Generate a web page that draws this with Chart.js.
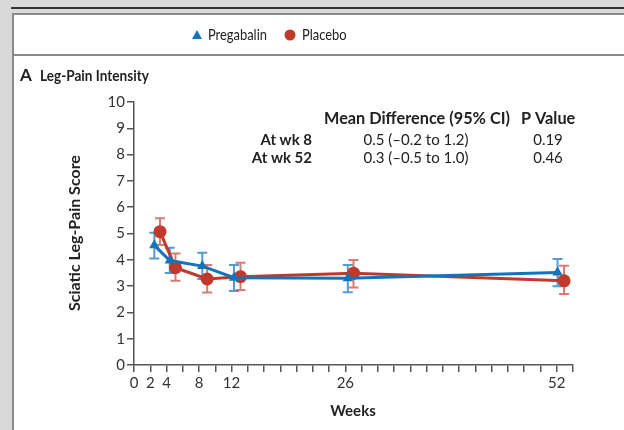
<!DOCTYPE html>
<html>
<head>
<meta charset="utf-8">
<script src="https://cdn.jsdelivr.net/npm/chart.js@4.4.1/dist/chart.umd.min.js"></script>
<style>
  html, body { margin: 0; padding: 0; background: #d9d9d9; }
  #wrap { width: 624px; height: 430px; }
</style>
</head>
<body>
<div id="wrap"><canvas id="myChart" width="624" height="430"></canvas></div>
<script>
// values (weeks are slightly dodged per group)
const weeksPregabalin = [2.5, 4.4, 8.4, 12.3, 26.3, 52.1];
const scorePregabalin = [4.55, 3.97, 3.76, 3.32, 3.3, 3.52];
const lowPregabalin = [4.05, 3.5, 3.27, 2.81, 2.77, 2.99];
const highPregabalin = [5.03, 4.46, 4.27, 3.8, 3.8, 4.03];

const weeksPlacebo = [3.2, 5.1, 9.0, 13.1, 27.0, 52.9];
const scorePlacebo = [5.07, 3.7, 3.27, 3.36, 3.49, 3.2];
const lowPlacebo = [4.56, 3.2, 2.76, 2.85, 2.95, 2.7];
const highPlacebo = [5.58, 4.24, 3.8, 3.89, 3.99, 3.77];

const xTickLabels = [0, 2, 4, 8, 12, 26, 52];

const tableHeader = ["Mean Difference (95% CI)", "P Value"];
const tableRows = ["At wk 8", "At wk 52"];
const tableDiff = ["0.5 (\u20130.2 to 1.2)", "0.3 (\u20130.5 to 1.0)"];
const tablePValue = ["0.19", "0.46"];

const BLUE = "#1474bb";
const RED = "#c0392b";
const FONT = "Lato, 'Open Sans', sans-serif";

function toPoints(xs, ys) {
  return xs.map((x, i) => ({ x: x, y: ys[i] }));
}

// text squeezed horizontally, the figure uses a narrow face
function narrowText(ctx, text, x, y, font, sx) {
  ctx.save();
  ctx.font = font;
  ctx.translate(x, y);
  ctx.scale(sx, 1);
  ctx.fillText(text, 0, 0);
  ctx.restore();
}

// page frame, legend, title, table text
const decor = {
  id: "decor",
  beforeDraw(chart) {
    const ctx = chart.ctx;
    ctx.save();
    ctx.fillStyle = "#d9d9d9";
    ctx.fillRect(0, 0, 624, 430);
    ctx.fillStyle = "#ffffff";
    ctx.fillRect(12, 14, 612, 416);
    ctx.strokeStyle = "#333";
    ctx.lineWidth = 2;
    ctx.beginPath();
    ctx.moveTo(11, 8);
    ctx.lineTo(624, 8);
    ctx.stroke();
    ctx.strokeStyle = "#8a8a8a";
    ctx.beginPath();
    ctx.moveTo(13, 430);
    ctx.lineTo(13, 14);
    ctx.lineTo(624, 14);
    ctx.moveTo(13, 55);
    ctx.lineTo(624, 55);
    ctx.stroke();
    ctx.restore();
  },
  afterDraw(chart) {
    const ctx = chart.ctx;
    ctx.save();
    ctx.textBaseline = "middle";

    // legend
    const ds = chart.data.datasets;
    ctx.fillStyle = BLUE;
    ctx.beginPath();
    ctx.moveTo(197, 30);
    ctx.lineTo(202, 39);
    ctx.lineTo(192, 39);
    ctx.closePath();
    ctx.fill();
    ctx.fillStyle = RED;
    ctx.beginPath();
    ctx.arc(290, 35, 5.5, 0, Math.PI * 2);
    ctx.fill();
    ctx.fillStyle = "#222";
    ctx.textAlign = "left";
    narrowText(ctx, ds[0].label, 208, 35, "15px " + FONT, 0.86);
    narrowText(ctx, ds[1].label, 302, 35, "15px " + FONT, 0.86);

    // panel title
    ctx.font = "bold 17px " + FONT;
    ctx.fillText("A", 20, 76);
    narrowText(ctx, "Leg-Pain Intensity", 40, 76, "bold 16px " + FONT, 0.85);

    // axis titles
    ctx.font = "bold 15px " + FONT;
    ctx.textAlign = "center";
    ctx.fillText("Weeks", 353, 411);
    ctx.save();
    ctx.translate(75, 233);
    ctx.rotate(-Math.PI / 2);
    ctx.font = "bold 16px " + FONT;
    ctx.fillText("Sciatic Leg-Pain Score", 0, 0);
    ctx.restore();

    // table
    ctx.font = "bold 16.3px " + FONT;
    ctx.textAlign = "left";
    ctx.fillText(tableHeader[0], 324, 119);
    ctx.fillText(tableHeader[1], 521, 119);
    ctx.font = "bold 15px " + FONT;
    ctx.textAlign = "right";
    tableRows.forEach((r, i) => ctx.fillText(r, 312, 140 + i * 18));
    ctx.font = "15px " + FONT;
    ctx.textAlign = "center";
    tableDiff.forEach((d, i) => ctx.fillText(d, 416, 140 + i * 18));
    tablePValue.forEach((p, i) => ctx.fillText(p, 548, 140 + i * 18));
    ctx.restore();
  }
};

// 95% CI bars drawn through the scales
const errorBars = {
  id: "errorBars",
  beforeDatasetsDraw(chart) {
    const ctx = chart.ctx;
    const xs = chart.scales.x, ys = chart.scales.y;
    const groups = [
      { w: weeksPregabalin, lo: lowPregabalin, hi: highPregabalin, c: "rgba(40,130,200,0.8)" },
      { w: weeksPlacebo, lo: lowPlacebo, hi: highPlacebo, c: "rgba(200,80,65,0.75)" }
    ];
    ctx.save();
    ctx.lineWidth = 2;
    groups.forEach(g => {
      ctx.strokeStyle = g.c;
      g.w.forEach((w, i) => {
        const px = xs.getPixelForValue(w);
        const p1 = ys.getPixelForValue(g.lo[i]);
        const p2 = ys.getPixelForValue(g.hi[i]);
        ctx.beginPath();
        ctx.moveTo(px, p1);
        ctx.lineTo(px, p2);
        ctx.moveTo(px - 5, p1);
        ctx.lineTo(px + 5, p1);
        ctx.moveTo(px - 5, p2);
        ctx.lineTo(px + 5, p2);
        ctx.stroke();
      });
    });
    ctx.restore();
  }
};

const config = {
  type: "scatter",
  data: {
    datasets: [
      {
        label: "Pregabalin",
        data: toPoints(weeksPregabalin, scorePregabalin),
        showLine: true,
        borderColor: BLUE,
        backgroundColor: BLUE,
        borderWidth: 3,
        pointStyle: "triangle",
        pointRadius: 6,
        pointBorderWidth: 0,
      },
      {
        label: "Placebo",
        data: toPoints(weeksPlacebo, scorePlacebo),
        showLine: true,
        borderColor: RED,
        backgroundColor: RED,
        borderWidth: 3,
        pointStyle: "circle",
        pointRadius: 6.5,
        pointBorderWidth: 0,
      },
    ],
  },
  options: {
    responsive: false,
    animation: false,
    devicePixelRatio: 1,
    layout: {
      padding: { left: 0, top: 102, right: 51, bottom: 0 },
    },
    scales: {
      x: {
        type: "linear",
        min: 0,
        max: 54,
        afterFit: s => { s.height = 65; },
        border: { color: "#555", width: 1.5 },
        grid: { drawOnChartArea: false, tickLength: 7, color: "#555", lineWidth: 1.5 },
        ticks: {
          stepSize: 2,
          autoSkip: false,
          maxRotation: 0,
          padding: 2,
          color: "#333",
          font: { size: 15, family: FONT },
          callback: v => (xTickLabels.includes(v) ? String(v) : ""),
        },
      },
      y: {
        min: 0,
        max: 10,
        afterFit: s => { s.width = 134; },
        border: { color: "#555", width: 1.5 },
        grid: { drawOnChartArea: false, tickLength: 7, color: "#555", lineWidth: 1.5 },
        ticks: {
          stepSize: 1,
          padding: 2,
          color: "#333",
          font: { size: 15, family: FONT },
        },
      },
    },
    plugins: {
      legend: { display: false },
      tooltip: { enabled: false },
    },
  },
  plugins: [decor, errorBars],
};

new Chart(document.getElementById("myChart"), config);
</script>
</body>
</html>
